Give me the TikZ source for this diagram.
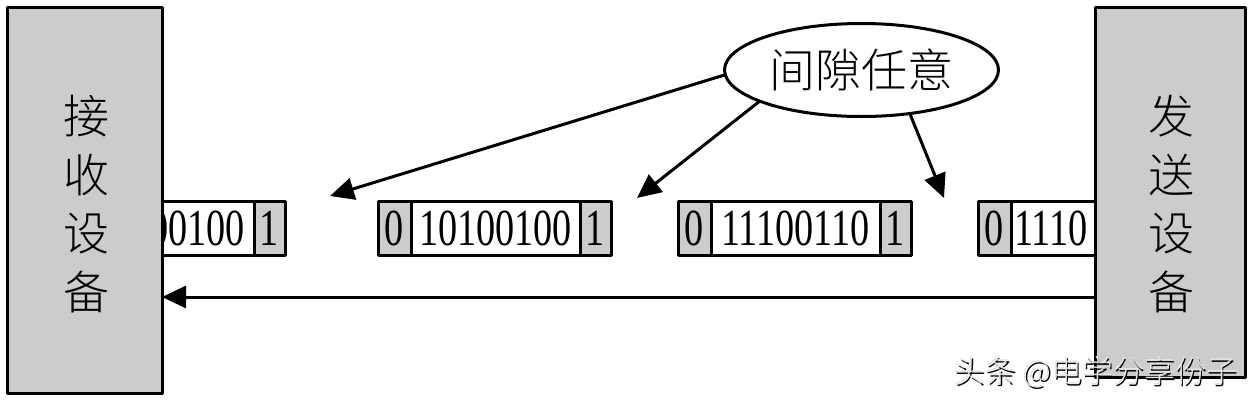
\documentclass[tikz,border=0pt]{standalone}
\usepackage{fontspec}
\setmainfont{Liberation Serif}
\newfontfamily\cjk{Noto Sans CJK SC Light}
\usetikzlibrary{arrows.meta,shapes.geometric}
\newcommand\dg[1]{\scalebox{0.735}[1]{#1}}
\begin{document}
\begin{tikzpicture}[x=1pt,y=-1pt,
 every node/.style={inner sep=0pt,outer sep=0pt},
 dev/.style={draw,line width=3pt,fill=gray!40,rectangle,line join=round},
 devtext/.style={font=\cjk\fontsize{46}{58.5}\selectfont,align=center},
 cell/.style={draw,line width=3pt,minimum height=54pt,rectangle,line join=round,font=\fontsize{52}{52}\selectfont},
 bitcell/.style={cell,fill=gray!40},
 datacell/.style={cell,fill=white},
 digits/.style={font=\fontsize{52}{52}\selectfont},
 arr/.style={line width=3pt,-{Triangle[length=24pt,width=22pt]}},
 wmfont/.style={font=\cjk\fontsize{31}{31}\selectfont,anchor=east},
]
\useasboundingbox (0,0) rectangle (1254,402);
\fill[white] (0,0) rectangle (1254,402);

% partial frame at the receiver
\node[datacell,minimum width=134pt] (f1d) at (187,228) {};
\node[bitcell,minimum width=31pt] (f1e) at (269.5,228) {\dg{1}};
\node[digits,anchor=east] (f1t) at (245,228) {\dg{00100}};

% frame 2
\node[bitcell,minimum width=33pt] (f2s) at (394.5,228) {\dg{0}};
\node[datacell,minimum width=169pt] (f2d) at (495.5,228) {\dg{10100100}};
\node[bitcell,minimum width=31pt] (f2e) at (595.5,228) {\dg{1}};

% frame 3
\node[bitcell,minimum width=33pt] (f3s) at (694.5,228) {\dg{0}};
\node[datacell,minimum width=169pt] (f3d) at (795.5,228) {\dg{11100110}};
\node[bitcell,minimum width=31pt] (f3e) at (895.5,228) {\dg{1}};

% partial frame at the sender
\node[bitcell,minimum width=33pt] (f4s) at (994.5,228) {\dg{0}};
\node[datacell,minimum width=119pt] (f4d) at (1070.5,228) {};
\node[digits,anchor=west] (f4t) at (1014,228) {\dg{1110}};

% devices
\node[dev,minimum width=155pt,minimum height=386pt] (recv) at (84.5,200) {};
\node[devtext] (recvt) at (86,204) {接\\收\\设\\备};
\node[dev,minimum width=150pt,minimum height=370pt] (send) at (1170,192) {};
\node[devtext] (sendt) at (1171,204) {发\\送\\设\\备};

% gap ellipse
\node[ellipse,draw,line width=3pt,minimum width=274pt,minimum height=93pt,
      font=\cjk\fontsize{46}{46}\selectfont] (gap) at (861.5,70) {间隙任意};
\coordinate (t1) at (330,196);
\coordinate (t2) at (637,198);
\coordinate (t3) at (944,198);
\draw[arr] (gap.182) -- (t1);
\draw[arr] (gap.197) -- (t2);
\draw[arr] (gap.318) -- (t3);

% transmission direction
\coordinate (lvl) at (0,297);
\draw[arr] (send.west |- lvl) -- (recv.east |- lvl);

% watermark
\node[wmfont,text=black] (wmshadow) at (1238.5,373.5) {头条 @电学分享份子};
\node[wmfont,text=gray!20] (wm) at (1237,372) {头条 @电学分享份子};
\end{tikzpicture}
\end{document}
